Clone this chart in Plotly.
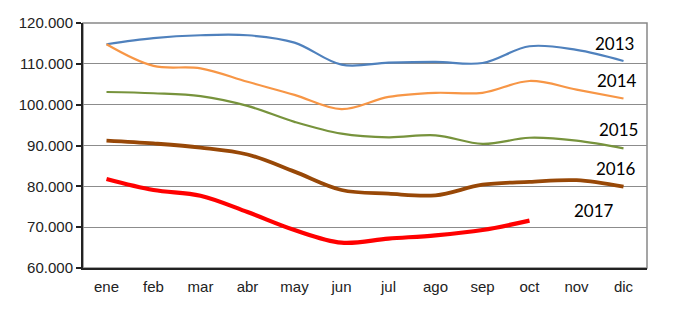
import plotly.graph_objects as go

months = ["ene", "feb", "mar", "abr", "may", "jun", "jul", "ago", "sep", "oct", "nov", "dic"]
y2013 = [114800, 116300, 117000, 117000, 115200, 109800, 110300, 110500, 110200, 114300, 113400, 110700]
y2014 = [114800, 109500, 108900, 105600, 102400, 98900, 101900, 102900, 102900, 105800, 103700, 101500]
y2015 = [103100, 102800, 102100, 99700, 95800, 92900, 92000, 92500, 90400, 91900, 91200, 89300]
y2016 = [91200, 90500, 89500, 87800, 83600, 79100, 78200, 77800, 80400, 81100, 81500, 79900]
y2017 = [81800, 79100, 77700, 73700, 69300, 66200, 67200, 68000, 69300, 71600]
series = [
    ("2013", y2013, "#4F81BD", 2.2),
    ("2014", y2014, "#F79646", 2.2),
    ("2015", y2015, "#77933C", 2.2),
    ("2016", y2016, "#984807", 3.8),
    ("2017", y2017, "#FF0000", 4.2),
]
label_pos = {"2013": (0.943, 0.918), "2014": (0.947, 0.767), "2015": (0.949, 0.567),
             "2016": (0.945, 0.408), "2017": (0.906, 0.233)}

fig = go.Figure()
for name, ys, col, w in series:
    fig.add_trace(go.Scatter(x=months[:len(ys)], y=ys, mode="lines", name=name,
                             line=dict(color=col, width=w, shape="spline", smoothing=1.0)))
    px, py = label_pos[name]
    fig.add_annotation(text=name, x=px, y=py, xref="paper", yref="paper", showarrow=False,
                       xanchor="center", yanchor="middle",
                       font=dict(family="Lato, Open Sans, sans-serif", size=17, color="#000"))

# gray frame
fig.add_shape(type="rect", xref="paper", yref="paper", x0=0, y0=0, x1=1, y1=1,
              line=dict(color="#888888", width=1.5), layer="below")

fig.update_layout(
    width=700, height=310, margin=dict(l=83, r=53, t=23, b=42),
    paper_bgcolor="white", plot_bgcolor="white", showlegend=False,
    separators=",.",
    font=dict(family="Liberation Sans, Arial, sans-serif", size=15, color="#222"),
)
fig.update_xaxes(type="category", categoryorder="array", categoryarray=months,
                 range=[-0.5, 11.5], showgrid=False, showline=True, linecolor="#222",
                 linewidth=2, ticks="", tickfont=dict(size=15), ticklabelstandoff=4,
                 fixedrange=True)
fig.update_yaxes(range=[60000, 120000], dtick=10000, tickformat=",d", showgrid=True,
                 gridcolor="#8c8c8c", gridwidth=1.2, showline=True, linecolor="#222",
                 linewidth=2, ticks="outside", ticklen=5, tickcolor="#222", tickwidth=1.5,
                 tickfont=dict(size=15), zeroline=False, fixedrange=True)

fig.write_html("out.html")
